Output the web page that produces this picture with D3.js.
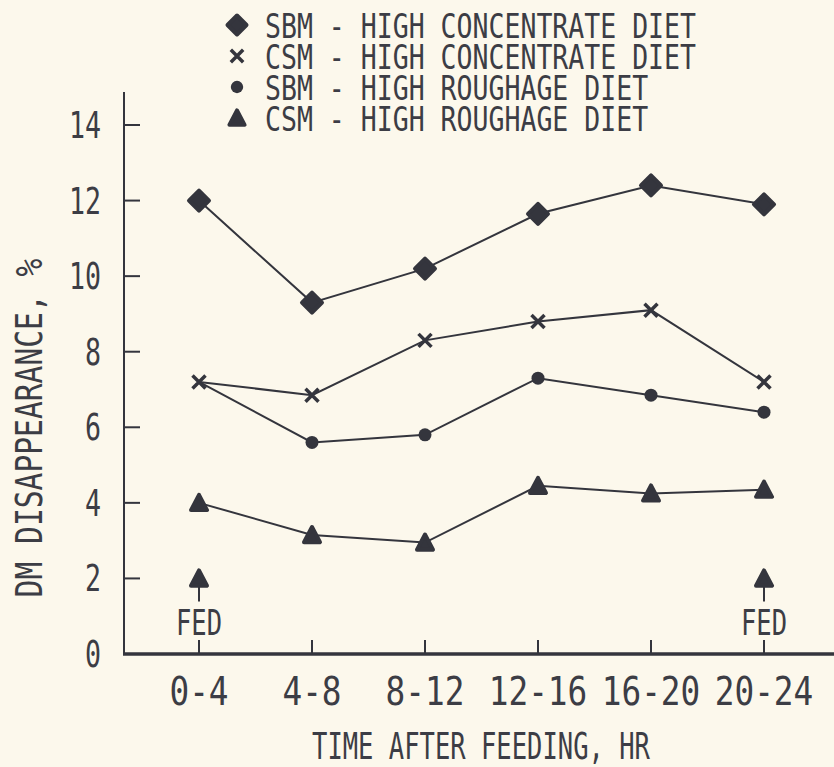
<!DOCTYPE html>
<html lang="en">
<head>
    <meta charset="UTF-8">
    <title>DM disappearance</title>
    <script src="https://cdn.jsdelivr.net/npm/d3@7/dist/d3.min.js"></script>
    <style>
        body { margin: 0; background: #fcf8ec; }
        svg { display: block; }
        text { font-family: "DejaVu Sans Mono", monospace; fill: #3c3d45; }
    </style>
</head>
<body>
<div id="chart"></div>
<script>
    const categories = ["0-4", "4-8", "8-12", "12-16", "16-20", "20-24"]
    const sbmHighConc = [12.0, 9.3, 10.2, 11.65, 12.4, 11.9]
    const csmHighConc = [7.2, 6.85, 8.3, 8.8, 9.1, 7.2]
    const sbmHighRough = [7.2, 5.6, 5.8, 7.3, 6.85, 6.4]
    const csmHighRough = [4.0, 3.15, 2.95, 4.45, 4.25, 4.35]
    const yTicks = [0, 2, 4, 6, 8, 10, 12, 14]
    const fedAt = ["0-4", "20-24"]
    const fedLevel = 2
    const legendLabels = [
        "SBM - HIGH CONCENTRATE DIET",
        "CSM - HIGH CONCENTRATE DIET",
        "SBM - HIGH ROUGHAGE DIET",
        "CSM - HIGH ROUGHAGE DIET"
    ]

    const width = 834
    const height = 767
    const ink = "#34353d"

    const x = d3.scalePoint().domain(categories).range([199, 764])
    const y = d3.scaleLinear().domain([0, 14]).range([654, 125])
    const axisX = 124

    const svg = d3.select("#chart").append("svg")
        .attr("width", width)
        .attr("height", height)

    svg.append("rect").attr("width", width).attr("height", height).attr("fill", "#fcf8ec")

    function label(str, tx, ty, size, sx, anchor, rot) {
        return svg.append("text")
            .attr("transform", `translate(${tx},${ty})` + (rot ? ` rotate(${rot})` : "") + ` scale(${sx},1)`)
            .attr("font-size", size)
            .attr("text-anchor", anchor)
            .text(str)
    }

    // marker shapes
    function drawMarker(g, type, cx, cy, s) {
        s = s || 1
        if (type === "diamond") {
            const r = 10 * s
            g.append("path")
                .attr("d", `M${cx},${cy - r}L${cx + r},${cy}L${cx},${cy + r}L${cx - r},${cy}Z`)
                .attr("fill", ink).attr("stroke", ink)
                .attr("stroke-width", 4).attr("stroke-linejoin", "round")
        } else if (type === "cross") {
            const r = 6.5 * s
            g.append("path")
                .attr("d", `M${cx - r},${cy - r}L${cx + r},${cy + r}M${cx + r},${cy - r}L${cx - r},${cy + r}`)
                .attr("stroke", ink).attr("stroke-width", 3.5)
        } else if (type === "dot") {
            g.append("circle").attr("cx", cx).attr("cy", cy).attr("r", 6.5 * s).attr("fill", ink)
        } else {
            const r = 8 * s
            g.append("path")
                .attr("d", `M${cx},${cy - r}L${cx + r},${cy + r * 0.9}L${cx - r},${cy + r * 0.9}Z`)
                .attr("fill", ink).attr("stroke", ink)
                .attr("stroke-width", 4).attr("stroke-linejoin", "round")
        }
    }

    // axes
    svg.append("line")
        .attr("x1", axisX).attr("x2", axisX)
        .attr("y1", y(0)).attr("y2", 92)
        .attr("stroke", ink).attr("stroke-width", 2)
    svg.append("line")
        .attr("x1", axisX - 1).attr("x2", width)
        .attr("y1", y(0)).attr("y2", y(0))
        .attr("stroke", ink).attr("stroke-width", 3.5)

    yTicks.forEach(t => {
        if (t > 0) {
            svg.append("line")
                .attr("x1", axisX).attr("x2", axisX + 16)
                .attr("y1", y(t)).attr("y2", y(t))
                .attr("stroke", ink).attr("stroke-width", 2)
        }
        label(String(t), 101, y(t) + 13, 37, 0.72, "end")
    })

    categories.forEach(c => {
        svg.append("line")
            .attr("x1", x(c)).attr("x2", x(c))
            .attr("y1", y(0)).attr("y2", y(0) - 14)
            .attr("stroke", ink).attr("stroke-width", 2)
        label(c, x(c), 705, 39, 0.84, "middle")
    })

    // axis titles
    label("TIME AFTER FEEDING, HR", 481, 759, 37, 0.69, "middle")
    label("DM DISAPPEARANCE, %", 42, 428, 38, 0.78, "middle", -90)

    // FED arrows
    fedAt.forEach(c => {
        svg.append("line")
            .attr("x1", x(c)).attr("x2", x(c))
            .attr("y1", y(fedLevel)).attr("y2", y(fedLevel) + 23)
            .attr("stroke", ink).attr("stroke-width", 2)
        drawMarker(svg, "triangle", x(c), y(fedLevel), 1)
        label("FED", x(c), 635, 36, 0.71, "middle")
    })

    // series
    const series = [
        {values: sbmHighConc, marker: "diamond"},
        {values: csmHighConc, marker: "cross"},
        {values: sbmHighRough, marker: "dot"},
        {values: csmHighRough, marker: "triangle"}
    ]

    const line = d3.line()
        .x((d, i) => x(categories[i]))
        .y(d => y(d))

    series.forEach(s => {
        svg.append("path")
            .attr("d", line(s.values))
            .attr("fill", "none")
            .attr("stroke", ink)
            .attr("stroke-width", 2)
    })

    series.forEach(s => {
        const g = svg.append("g")
        s.values.forEach((v, i) => {
            // the dot at 0-4 sits under the cross, only the cross shows
            if (s.marker === "dot" && v === csmHighConc[i]) return
            drawMarker(g, s.marker, x(categories[i]), y(v), 1)
        })
    })

    // legend
    const legendY = [25, 56, 87, 118]
    legendLabels.forEach((txt, i) => {
        drawMarker(svg, series[i].marker, 237, legendY[i], 0.95)
        label(txt, 265, legendY[i] + 12.5, 34, 0.78, "start")
    })
</script>
</body>
</html>
